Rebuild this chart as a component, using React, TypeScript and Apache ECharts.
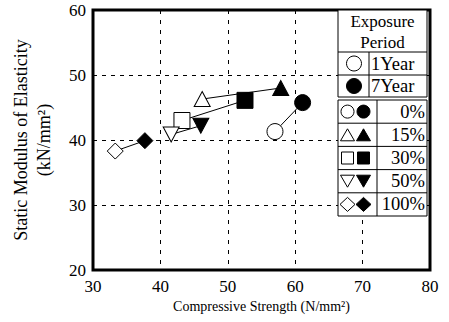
import React, { useEffect, useRef } from "react";
import * as echarts from "echarts";

// ---- data ----
const levels = ["0%", "15%", "30%", "50%", "100%"];
const symbols = ["circle", "triangle", "rect", "triangle", "diamond"];
const symbolRotations = [0, 0, 0, 180, 0];
const oneYearStrength = [57.0, 46.2, 43.2, 41.6, 33.3];
const oneYearModulus = [41.3, 46.3, 43.0, 40.85, 38.3];
const sevenYearStrength = [61.1, 57.85, 52.55, 46.0, 37.7];
const sevenYearModulus = [45.75, 48.0, 46.1, 42.2, 39.9];
const periods = ["1Year", "7Year"];
const xTicks = [30, 40, 50, 60, 70, 80];
const yTicks = [20, 30, 40, 50, 60];

const FONT = "Liberation Serif";
const ZL = 50;

function legendSymbol(kind: string, rot: number, cx: number, cy: number, filled: boolean): any {
  const style = { fill: filled ? "#000" : "#fff", stroke: "#000", lineWidth: 1 };
  if (kind === "circle") return { type: "circle", z: ZL + 2, shape: { cx, cy, r: 6.5 }, style };
  if (kind === "rect") return { type: "rect", z: ZL + 2, shape: { x: cx - 6, y: cy - 6, width: 12, height: 12 }, style };
  if (kind === "diamond")
    return {
      type: "polygon", z: ZL + 2,
      shape: { points: [[cx, cy - 7], [cx + 7.5, cy], [cx, cy + 7], [cx - 7.5, cy]] },
      style,
    };
  const h = 12, w = 14;
  const pts = rot === 180
    ? [[cx - w / 2, cy - h / 2], [cx + w / 2, cy - h / 2], [cx, cy + h / 2]]
    : [[cx - w / 2, cy + h / 2], [cx + w / 2, cy + h / 2], [cx, cy - h / 2]];
  return { type: "polygon", z: ZL + 2, shape: { points: pts }, style };
}

function txt(text: string, x: number, y: number, align: string, size: number): any {
  return {
    type: "text", x, y, z: ZL + 2,
    style: { text, fontFamily: FONT, fontSize: size, fill: "#000", align, verticalAlign: "middle" },
  };
}

export default function App() {
  const ref = useRef<HTMLDivElement>(null);
  useEffect(() => {
    if (!ref.current) return;
    const chart = echarts.init(ref.current, undefined, { renderer: "svg" });

    const series = levels.map((lv, i) => ({
      name: lv,
      type: "line",
      data: [
        { value: [oneYearStrength[i], oneYearModulus[i]], itemStyle: { color: "#fff", borderColor: "#000", borderWidth: 1 } },
        { value: [sevenYearStrength[i], sevenYearModulus[i]], itemStyle: { color: "#000", borderColor: "#000", borderWidth: 1 } },
      ],
      symbol: symbols[i],
      symbolRotate: symbolRotations[i],
      symbolSize: symbols[i] === "triangle" ? [16, 15] : 16,
      showSymbol: true,
      lineStyle: { color: "#000", width: 1 },
      z: 3,
    }));

    // legend table
    const g: any[] = [];
    const L = 338, R = 427;
    const ln = (x1: number, y1: number, x2: number, y2: number) => ({ type: "line", z: ZL + 1, shape: { x1, y1, x2, y2 }, style: { stroke: "#000", lineWidth: 1 } });
    g.push({ type: "rect", z: ZL, shape: { x: L, y: 10, width: R - L, height: 87 }, style: { fill: "#fff", stroke: "#000", lineWidth: 1 } });
    g.push(ln(L, 52, R, 52));
    g.push(ln(L, 75, R, 75));
    g.push(ln(369, 52, 369, 97));
    g.push(txt("Exposure", (L + R) / 2, 21, "center", 17));
    g.push(txt("Period", (L + R) / 2, 42, "center", 17));
    periods.forEach((p, k) => {
      const cy = 63.5 + k * 22.5;
      g.push({ type: "circle", z: ZL + 2, shape: { cx: 354, cy, r: 7.5 }, style: { fill: k === 0 ? "#fff" : "#000", stroke: "#000", lineWidth: 1 } });
      g.push(txt(p, 371, cy, "left", 18.5));
    });
    const top2 = 100, rowH = 23.2;
    g.push({ type: "rect", z: ZL, shape: { x: L, y: top2, width: R - L, height: rowH * levels.length }, style: { fill: "#fff", stroke: "#000", lineWidth: 1 } });
    g.push(ln(377, top2, 377, top2 + rowH * levels.length));
    levels.forEach((lv, i) => {
      if (i > 0) g.push(ln(L, top2 + rowH * i, R, top2 + rowH * i));
      const cy = top2 + rowH * (i + 0.5);
      g.push(legendSymbol(symbols[i], symbolRotations[i], 347.5, cy, false));
      g.push(legendSymbol(symbols[i], symbolRotations[i], 363.5, cy, true));
      g.push(txt(lv, 425, cy, "right", 18.5));
    });

    chart.setOption({
      animation: false,
      backgroundColor: "#fff",
      textStyle: { fontFamily: FONT },
      grid: { left: 93, right: 19, top: 10, bottom: 52, show: true, borderColor: "#000", borderWidth: 3, backgroundColor: "transparent" },
      xAxis: {
        type: "value", min: xTicks[0], max: xTicks[xTicks.length - 1], interval: 10,
        name: "Compressive Strength (N/mm²)", nameLocation: "middle", nameGap: 29,
        nameTextStyle: { fontFamily: FONT, fontSize: 14, color: "#000" },
        axisLine: { show: false }, axisTick: { show: false },
        axisLabel: { fontFamily: FONT, fontSize: 17, color: "#000", margin: 8 },
        splitLine: { show: true, lineStyle: { color: "#000", width: 1, type: [4, 6] } },
      },
      yAxis: {
        type: "value", min: yTicks[0], max: yTicks[yTicks.length - 1], interval: 10,
        name: "Static Modulus of Elasticity\n(kN/mm²)", nameLocation: "middle", nameGap: 38, nameRotate: 90,
        nameTextStyle: { fontFamily: FONT, fontSize: 18, color: "#000", lineHeight: 23 },
        axisLine: { show: false }, axisTick: { show: false },
        axisLabel: { fontFamily: FONT, fontSize: 17, color: "#000", margin: 7 },
        splitLine: { show: true, lineStyle: { color: "#000", width: 1, type: [4, 5] } },
      },
      series,
      graphic: { elements: g },
    });
    return () => chart.dispose();
  }, []);
  return <div ref={ref} style={{ position: "absolute", left: 0, top: 0, width: 449, height: 322 }} />;
}
